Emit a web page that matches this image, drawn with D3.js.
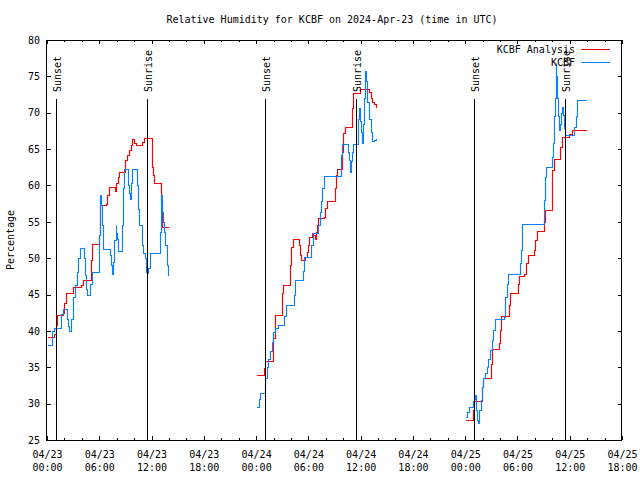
<!DOCTYPE html>
<html><head><meta charset="utf-8">
<script src="https://cdn.jsdelivr.net/npm/d3@7"></script>
<style>body{margin:0;background:#fff}svg{display:block}</style>
</head><body>
<svg id="c" width="640" height="480"></svg>
<script>
// ---------------- data ----------------
const titleText = "Relative Humidity for KCBF on 2024-Apr-23 (time in UTC)";
const yAxisLabel = "Percentage";
const seriesNames = ["KCBF Analysis", "KCBF"];
const seriesColors = ["#ff0000", "#0a80ff"];
const startUTC = "2024-04-23T00:00:00Z";
const spanHours = 66;              // 04/23 00:00 -> 04/25 18:00
const yTickValues = [25, 30, 35, 40, 45, 50, 55, 60, 65, 70, 75, 80];
// sun events, hours after start
const sunHours  = [1.12, 11.52, 25.07, 35.55, 49.06, 59.50];
const sunLabels = ["Sunset", "Sunrise", "Sunset", "Sunrise", "Sunset", "Sunrise"];

// [hours after start, relative humidity %]
const analysisDay1 = [[0.08,39.2],[0.84,39.6],[0.99,40.8],[1.11,42.2],[1.88,42.4],[2.0,43.8],[2.18,45.2],[2.83,45.2],[3.02,46.1],[3.9,46.3],[4.17,47.0],[4.86,47.0],[5.01,49.8],[5.2,51.9],[5.89,51.9],[6.0,53.2],[6.08,57.3],[6.77,57.4],[6.93,58.7],[7.12,59.8],[7.6,59.8],[7.8,59.2],[7.95,60.4],[8.11,61.2],[8.26,61.8],[8.84,61.8],[8.95,63.5],[9.14,64.2],[9.41,64.9],[9.6,65.6],[9.79,66.4],[9.95,65.9],[10.18,65.5],[10.87,65.5],[10.95,66.0],[11.13,66.5],[11.9,66.5],[12.0,63.7],[12.1,62.5],[12.2,61.4],[12.28,60.3],[12.97,60.3],[13.08,57.8],[13.16,54.3],[13.93,54.3]];
const analysisDay2 = [[24.14,33.9],[24.83,33.9],[24.91,34.9],[25.06,35.9],[25.83,35.9],[25.98,39.0],[26.13,42.2],[26.9,42.2],[27.01,45.2],[27.09,46.3],[27.82,46.3],[27.89,49.1],[28.05,51.6],[28.2,52.6],[28.85,52.6],[28.96,51.8],[29.08,50.4],[29.2,49.8],[29.45,49.8],[29.61,50.2],[29.81,50.9],[30.0,51.8],[30.11,52.9],[30.38,53.4],[30.57,53.2],[30.8,52.6],[30.92,53.6],[31.03,54.6],[31.15,55.5],[31.85,55.6],[31.95,56.9],[32.15,57.9],[32.87,57.9],[33.02,59.6],[33.17,61.4],[33.33,62.3],[33.71,62.3],[33.86,64.6],[34.01,67.2],[34.21,68.1],[34.86,68.1],[34.97,70.6],[35.09,72.7],[35.85,72.7],[35.93,73.3],[36.88,73.3],[37.0,72.9],[37.15,72.0],[37.3,71.5],[37.53,71.2],[37.76,70.8]];
const analysisDay3 = [[48.09,27.75],[48.82,27.75],[48.94,29.1],[49.05,30.4],[49.82,30.4],[49.93,32.3],[50.08,33.5],[50.85,33.5],[50.96,35.5],[51.04,37.5],[51.81,37.5],[51.92,38.3],[52.04,40.1],[52.11,42.0],[52.88,42.0],[52.99,43.6],[53.11,45.2],[53.91,45.2],[54.03,46.5],[54.18,47.5],[54.79,47.8],[54.98,49.3],[55.17,50.5],[55.82,50.5],[55.94,51.1],[56.05,52.5],[56.21,53.8],[56.9,53.8],[57.01,55.0],[57.16,56.6],[57.89,56.6],[57.93,58.5],[58.0,62.1],[58.12,62.1],[58.2,63.7],[58.81,63.7],[58.88,65.3],[59.11,66.6],[59.76,66.6],[59.88,67.1],[60.22,67.6],[61.83,67.6]];

const obsDay1 = [[0.08,38.0],[0.46,38.0],[0.53,39.0],[0.61,40.0],[0.84,40.4],[1.49,40.4],[1.57,42.3],[1.88,43.0],[2.14,43.0],[2.3,41.6],[2.45,40.7],[2.56,40.0],[2.76,41.7],[3.02,44.7],[3.21,46.3],[3.41,48.1],[3.6,50.0],[3.79,51.4],[4.17,51.4],[4.29,50.0],[4.36,47.7],[4.52,45.8],[4.59,45.0],[4.86,45.0],[4.97,46.5],[5.13,48.1],[5.89,48.1],[5.97,53.2],[6.05,56.2],[6.12,58.7],[6.2,57.3],[6.27,55.9],[6.35,54.5],[6.47,51.3],[7.12,51.3],[7.23,50.4],[7.35,49.0],[7.5,47.8],[7.61,49.5],[7.73,52.5],[7.88,54.6],[7.96,53.4],[8.04,52.7],[8.11,51.0],[8.57,51.0],[8.65,54.6],[8.76,59.6],[8.88,62.3],[9.18,62.3],[9.3,60.0],[9.41,58.9],[9.53,58.2],[9.64,60.3],[9.8,62.3],[10.18,62.3],[10.29,60.0],[10.41,56.8],[10.6,54.5],[10.87,51.8],[11.06,50.7],[11.25,50.0],[11.36,48.1],[11.52,47.9],[11.63,48.6],[11.82,50.7],[12.86,50.7],[12.97,53.6],[13.05,58.7],[13.16,56.4],[13.28,55.0],[13.39,53.6],[13.54,51.8],[13.74,49.0],[13.85,47.7]];
const obsDay2 = [[24.14,29.6],[24.3,30.7],[24.45,31.5],[24.83,31.5],[24.98,32.6],[25.06,33.5],[25.21,35.1],[25.41,36.2],[25.6,37.2],[25.83,38.5],[25.98,39.9],[26.17,40.4],[26.52,40.8],[27.13,40.8],[27.24,42.0],[27.43,43.6],[28.2,43.6],[28.35,44.9],[28.5,47.0],[29.23,47.0],[29.35,48.2],[29.54,50.1],[30.19,50.1],[30.3,51.8],[30.49,53.5],[30.95,53.5],[31.14,54.6],[31.34,56.4],[31.45,57.8],[31.6,59.6],[31.8,61.3],[33.56,61.3],[33.71,64.2],[33.82,65.7],[34.4,65.7],[34.51,64.6],[34.66,63.5],[34.78,61.9],[34.89,63.3],[35.05,64.6],[35.16,65.7],[35.55,65.7],[35.7,69.2],[35.81,70.6],[35.93,68.8],[36.04,67.4],[36.16,65.8],[36.27,68.5],[36.39,72.0],[36.54,75.7],[36.65,74.3],[36.77,71.5],[36.96,69.2],[37.15,67.4],[37.31,66.1],[37.53,66.2],[37.76,66.4]];
const obsDay3 = [[48.09,28.1],[48.25,28.9],[48.4,29.5],[48.82,29.5],[48.94,30.3],[49.01,30.7],[49.13,31.2],[49.24,29.1],[49.4,27.75],[49.51,27.3],[49.62,29.1],[49.78,30.5],[49.93,32.3],[50.08,33.5],[50.28,34.2],[50.47,35.1],[50.66,36.2],[50.85,37.4],[51.04,38.75],[51.23,40.1],[51.42,41.7],[52.46,41.9],[52.57,44.7],[52.76,46.5],[52.88,47.8],[54.18,47.8],[54.29,49.3],[54.41,51.1],[54.48,53.4],[54.56,54.7],[56.9,54.7],[57.01,58.0],[57.12,61.2],[57.24,62.5],[57.85,62.5],[57.97,63.9],[58.04,64.9],[58.12,65.8],[58.23,69.5],[58.31,72.0],[58.39,76.8],[58.46,75.0],[58.54,72.0],[58.65,69.5],[58.77,67.6],[58.88,68.5],[59.0,69.9],[59.11,70.8],[59.23,69.7],[59.34,67.9],[59.5,66.9],[60.42,66.9],[60.53,68.1],[60.68,69.5],[60.8,71.7],[61.83,71.7]];

// ---------------- drawing ----------------
const FONT = "'DejaVu Sans Mono', 'Liberation Mono', monospace";
const W = 640, H = 480;
const M = {left: 47, right: 18, top: 40, bottom: 40};
const x0 = M.left, x1 = W - M.right, y0 = M.top, y1 = H - M.bottom;

const t0 = new Date(startUTC).getTime();
const toDate = h => new Date(t0 + h * 3600e3);

const x = d3.scaleUtc().domain([toDate(0), toDate(spanHours)]).range([x0, x1]);
const y = d3.scaleLinear().domain([25, 80]).range([y1, y0]);
const px = v => Math.round(v) + 0.5;   // snap to pixel centres for crisp 1px strokes

const svg = d3.select("#c").style("font-family", FONT).style("font-size", "10px");
svg.append("rect").attr("width", W).attr("height", H).attr("fill", "#fff");

const majorTicks = d3.utcHour.every(6).range(toDate(0), toDate(spanHours + 0.01));
const minorTicks = d3.utcHour.every(2).range(toDate(0), toDate(spanHours + 0.01));

function styleAxis(g) {
  g.select(".domain").remove();
  g.selectAll("line").attr("stroke", "#000").attr("shape-rendering", "crispEdges");
  g.attr("font-family", FONT).attr("font-size", 10);
  g.selectAll("text").attr("fill", "#000");
}

// minor ticks bottom / top
svg.append("g").attr("transform", `translate(0,${y1})`)
  .call(d3.axisBottom(x).tickValues(minorTicks).tickSize(-2).tickFormat(() => "")).call(styleAxis);
svg.append("g").attr("transform", `translate(0,${y0})`)
  .call(d3.axisTop(x).tickValues(minorTicks).tickSize(-2).tickFormat(() => "")).call(styleAxis);
// major ticks bottom with two-line labels
const fDate = d3.utcFormat("%m/%d"), fTime = d3.utcFormat("%H:%M");
const gxb = svg.append("g").attr("transform", `translate(0,${y1})`)
  .call(d3.axisBottom(x).tickValues(majorTicks).tickSize(-4).tickFormat(fDate)).call(styleAxis);
gxb.selectAll(".tick text").each(function(d) {
  const t = d3.select(this).text(null).attr("y", null).attr("dy", null);
  t.append("tspan").attr("x", 0).attr("y", 18).text(fDate(d));
  t.append("tspan").attr("x", 0).attr("y", 31).text(fTime(d));
});
svg.append("g").attr("transform", `translate(0,${y0})`)
  .call(d3.axisTop(x).tickValues(majorTicks).tickSize(-4).tickFormat(() => "")).call(styleAxis);
// y axes
svg.append("g").attr("transform", `translate(${x0},0)`)
  .call(d3.axisLeft(y).tickValues(yTickValues).tickSize(-4).tickPadding(7)).call(styleAxis);
svg.append("g").attr("transform", `translate(${x1},0)`)
  .call(d3.axisRight(y).tickValues(yTickValues).tickSize(-4).tickFormat(() => "")).call(styleAxis);

// data lines
const line = d3.line().x(d => px(x(toDate(d[0])))).y(d => px(y(d[1]))).curve(d3.curveStepAfter);
const seriesData = [[analysisDay1, analysisDay2, analysisDay3], [obsDay1, obsDay2, obsDay3]];
seriesData.forEach((segs, i) => {
  segs.forEach(seg => {
    svg.append("path").attr("d", line(seg)).attr("fill", "none")
      .attr("stroke", seriesColors[i]).attr("stroke-width", 1.15)
      .attr("stroke-linecap", "square");
  });
});

// sunrise / sunset markers
sunHours.forEach((h, i) => {
  const xp = px(x(toDate(h)) - 0.5);
  svg.append("line").attr("x1", xp).attr("x2", xp).attr("y1", 99).attr("y2", y1)
    .attr("stroke", "#000").attr("shape-rendering", "crispEdges");
  svg.append("text").attr("transform", `translate(${xp + 4.5},92) rotate(-90)`)
    .attr("fill", "#000").text(sunLabels[i]);
});

// border
svg.append("rect").attr("x", x0 - 0.5).attr("y", y0 + 0.5).attr("width", x1 - x0).attr("height", y1 - y0)
  .attr("fill", "none").attr("stroke", "#000").attr("shape-rendering", "crispEdges");

// title and axis label
svg.append("text").attr("x", 332).attr("y", 23).attr("text-anchor", "middle").text(titleText);
svg.append("text").attr("transform", `translate(14,${(y0 + y1) / 2}) rotate(-90)`)
  .attr("text-anchor", "middle").text(yAxisLabel);

// legend
seriesNames.forEach((name, i) => {
  const ly = 49.5 + i * 13;
  svg.append("text").attr("x", 575).attr("y", ly + 3).attr("text-anchor", "end").text(name);
  svg.append("line").attr("x1", 581).attr("x2", 610).attr("y1", ly).attr("y2", ly)
    .attr("stroke", seriesColors[i]).attr("shape-rendering", "crispEdges");
});
</script>
</body></html>
